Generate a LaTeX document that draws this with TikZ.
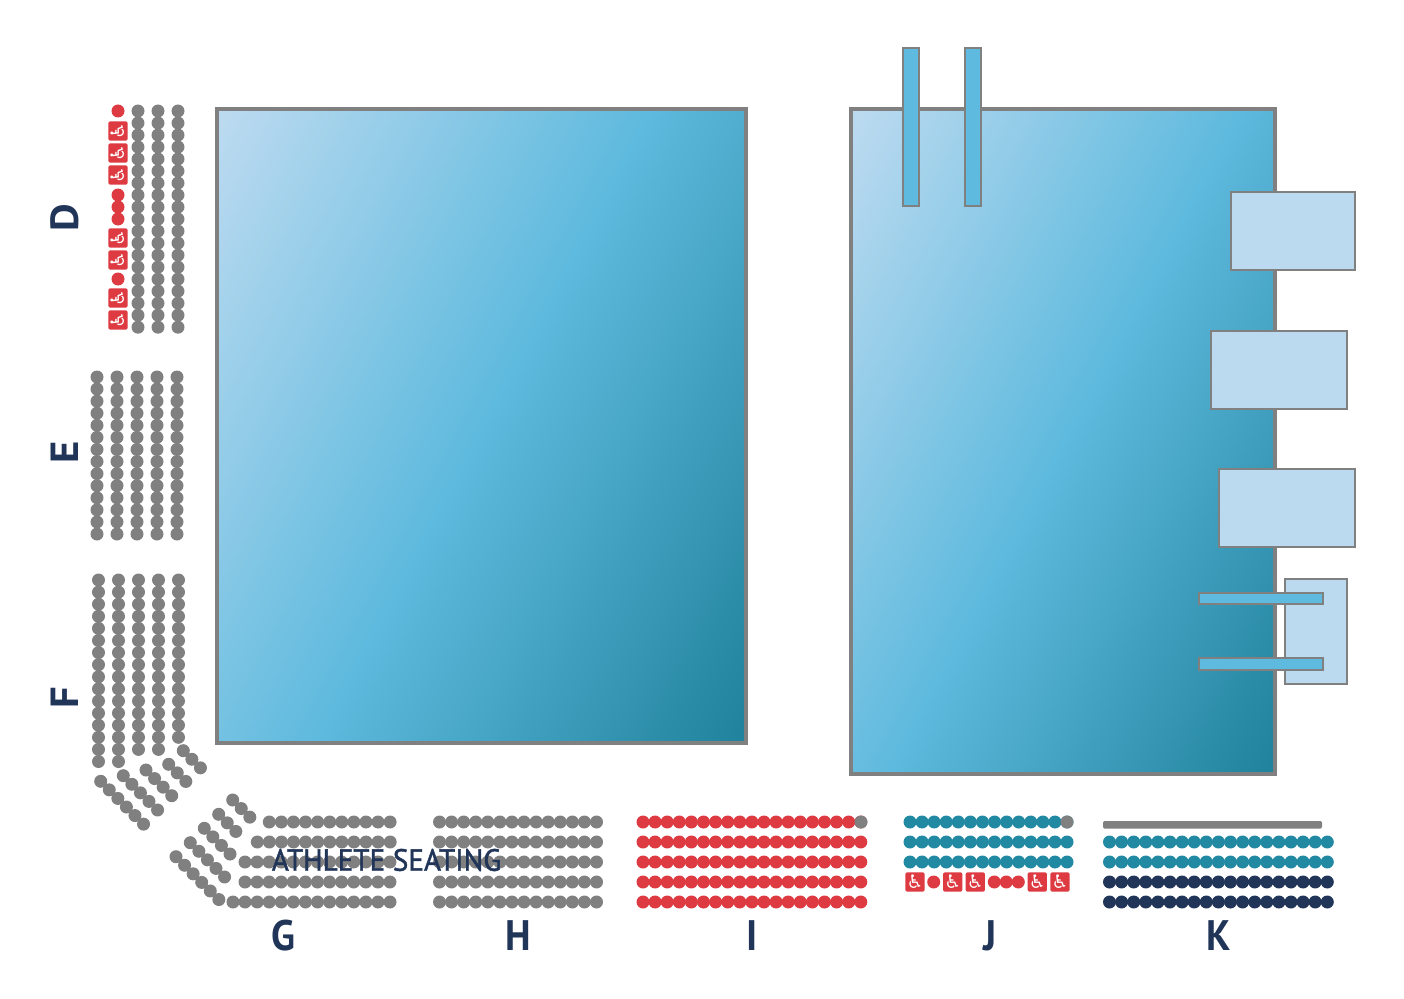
\documentclass[tikz,border=0pt]{standalone}
\usepackage{fontspec}
\setmainfont{PT Sans}
\newfontfamily\symbolfont{DejaVu Sans}
\newfontfamily\mediumfont[FakeBold=1.5]{PT Sans}
\definecolor{seatgray}{HTML}{808080}
\definecolor{seatred}{HTML}{DD3A42}
\definecolor{seatteal}{HTML}{2289A3}
\definecolor{seatnavy}{HTML}{213558}
\definecolor{poollight}{HTML}{BBDAF0}
\definecolor{poolmid}{HTML}{5EBADE}
\definecolor{pooldark}{HTML}{21839D}
\pgfdeclarehorizontalshading{poolshade}{100bp}{color(0bp)=(poollight); color(17bp)=(poollight); color(50bp)=(poolmid); color(83bp)=(pooldark); color(100bp)=(pooldark)}
\tikzset{
  pool/.style={draw=seatgray,line width=3pt,shading=poolshade,shading angle=-28},
  lane/.style={draw=seatgray,line width=1pt,fill=poolmid},
  deck/.style={draw=seatgray,line width=1pt,fill=poollight},
  seclabel/.style={text=seatnavy,font=\bfseries\fontsize{32}{32}\selectfont,inner sep=0pt,xscale=0.92},
  access/.style={fill=seatred,rounded corners=1.5pt,minimum size=14.5pt,inner sep=0pt,text=white,font=\symbolfont\fontsize{14}{14}\selectfont},
  accessrot/.style={access,rotate=90}
}
\begin{document}
\begin{tikzpicture}[x=0.75pt,y=-0.75pt]
\useasboundingbox (0,0) rectangle (1404,999);

% pools
\path[pool] (217,109) rectangle (746,743);
\path[pool] (851,109) rectangle (1275,774);
\foreach \x in {903,965}
  \draw[lane] (\x,48) rectangle (\x+16,206);
\draw[deck] (1231,192) rectangle (1355,270);
\draw[deck] (1211,331) rectangle (1347,409);
\draw[deck] (1219,469) rectangle (1355,547);
\draw[deck] (1285,579) rectangle (1347,684);
\draw[lane] (1199,593) rectangle (1323,604);
\draw[lane] (1199,658) rectangle (1323,670);

% section D
\foreach \x in {138,158,178}
  \foreach \r in {0,...,18}
    \fill[seatgray] (\x,111+12.01*\r) circle (6.5);
\foreach \y in {111,195,207,219,279}
  \fill[seatred] (118,\y) circle (6.5);
\foreach \y in {131,153,175,238,260,298,320}
  \node[accessrot] (d\y) at (118,\y) {♿};

% section E
\foreach \x in {97,117,137,157,177}
  \foreach \r in {0,...,13}
    \fill[seatgray] (\x,377+12.08*\r) circle (6.5);

% section F
\foreach \x/\n in {98.5/15,118.5/15,138.5/14,158.5/14,178.5/13}
  \foreach \r in {0,...,\n}
    \fill[seatgray] (\x,580+12.1*\r) circle (6.5);

% corner blocks
\foreach \x/\y/\n in {183.3/750.7/2,168.7/764.3/2,146/770/3,123.3/775.7/4,100.7/781.3/5,
                      232.7/800/2,218.7/814.3/2,204.3/828.3/3,190.3/842.7/4,176/856.7/5}
  \foreach \r in {0,...,\n}
    \fill[seatgray] (\x+8.57*\r,\y+8.57*\r) circle (6.5);

% section G
\foreach \s/\y/\n in {269.3/822/10,257.3/842/11,245/862/12,245/882/12,233/902/13}
  \foreach \r in {0,...,\n}
    \fill[seatgray] (\s+12.08*\r,\y) circle (6.5);

% sections H, I, J, K
\foreach \y in {822,842,862,882,902} {
  \foreach \r in {0,...,13}
    \fill[seatgray] (439.5+12.08*\r,\y) circle (6.5);
  \foreach \r in {0,...,18}
    \fill[seatred] (643+12.1*\r,\y) circle (6.5);
}
\fill[seatgray] (861,822) circle (6.5);
\foreach \y in {822,842,862}
  \foreach \r in {0,...,13}
    \fill[seatteal] (910+12.08*\r,\y) circle (6.5);
\fill[seatgray] (1067,822) circle (6.5);
\foreach \x in {933.7,994.3,1006.3,1018.3}
  \fill[seatred] (\x,882) circle (6.5);
\foreach \x in {915,952.7,975.3,1037.3,1060}
  \node[access] (j\x) at (\x,882) {♿};
\fill[seatgray,rounded corners=1pt] (1103,821) rectangle (1322,828.5);
\foreach \y/\c in {842/seatteal,862/seatteal,882/seatnavy,902/seatnavy}
  \foreach \r in {0,...,18}
    \fill[\c] (1109.5+12.1*\r,\y) circle (6.5);

% labels
\node[seclabel,rotate=90] (secD) at (65,218) {D};
\node[seclabel,rotate=90] (secE) at (65,452) {E};
\node[seclabel,rotate=90] (secF) at (65,698) {F};
\node[seclabel] (secG) at (283,936) {G};
\node[seclabel] (secH) at (518,936) {H};
\node[seclabel] (secI) at (752,936) {I};
\node[seclabel] (secJ) at (990,936) {J};
\node[seclabel] (secK) at (1219,936) {K};
\node[text=seatnavy,font=\mediumfont\fontsize{23}{23}\selectfont,inner sep=0pt,xscale=0.95] (athletes) at (386.5,860) {ATHLETE SEATING};
\end{tikzpicture}
\end{document}
